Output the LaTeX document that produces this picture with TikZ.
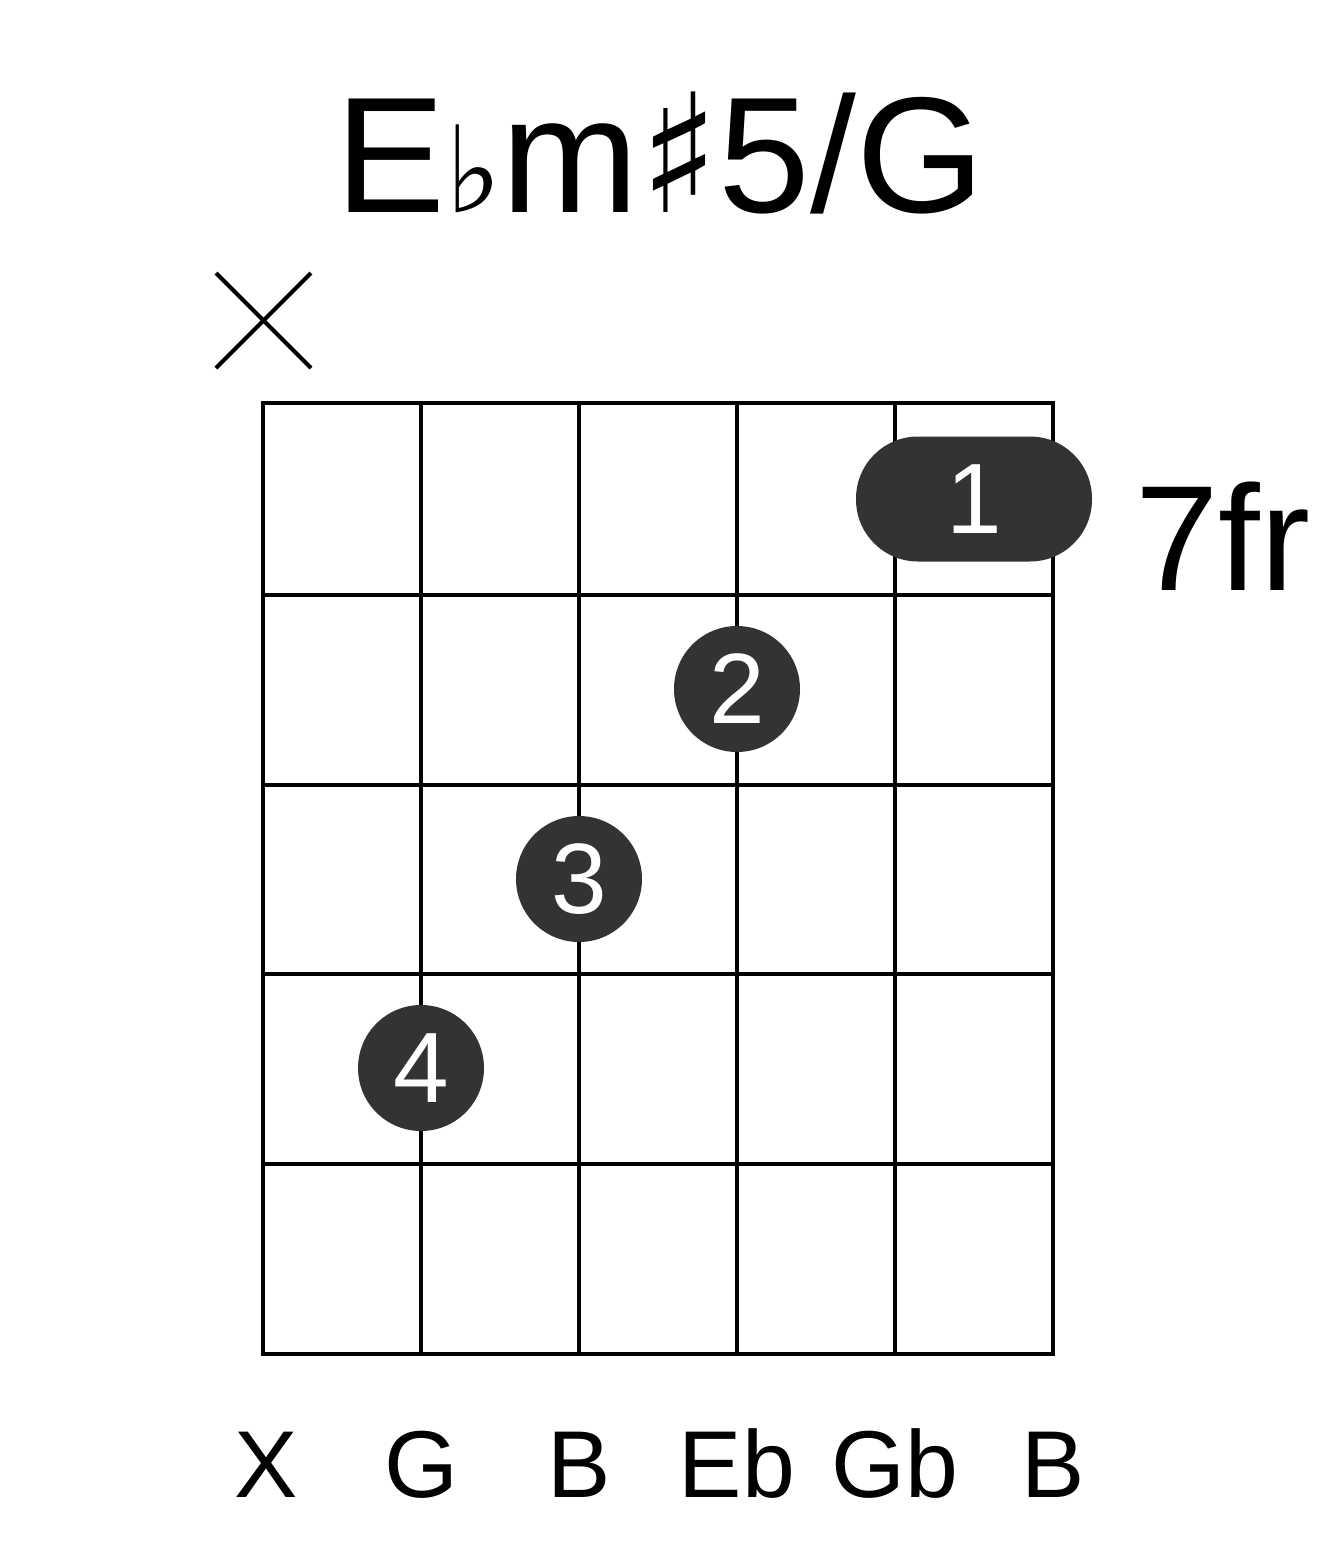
\documentclass[tikz,border=0pt]{standalone}
\usepackage{fontspec}
\setmainfont{Liberation Sans}
\newfontfamily\symf{DejaVu Sans}
\definecolor{dot}{HTML}{333333}
\begin{document}
\begin{tikzpicture}[x=1pt,y=-1pt,
  gridline/.style={line width=4pt},
  fing/.style={circle,fill=dot,minimum size=126pt,inner sep=0pt,text=white,font=\fontsize{100}{100}\selectfont},
  lab/.style={font=\fontsize{95}{95}\selectfont,anchor=base}]
\useasboundingbox (0,0) rectangle (1317,1551);
\foreach \x in {263,421,579,737,895,1053} \draw[gridline] (\x,403) -- (\x,1354);
\foreach \y in {403,595,785,974,1164,1354} \draw[gridline] (261,\y) -- (1055,\y);
\node[anchor=base,font=\fontsize{165}{165}\selectfont] (title) at (660,212) {E{\symf\fontsize{120}{120}\selectfont ♭}m{\symf ♯}5/G};
\draw[line width=4pt] (216,273) -- (311,368) (311,273) -- (216,368);
\node[fill=dot,rounded corners=62pt,minimum width=236pt,minimum height=125pt,inner sep=0pt,text=white,font=\fontsize{100}{100}\selectfont] (b1) at (974,499) {1};
\node[fing] (f2) at (737,689) {2};
\node[fing] (f3) at (579,879) {3};
\node[fing] (f4) at (421,1068) {4};
\node[anchor=base west,font=\fontsize{150}{150}\selectfont] (fr) at (1132,590) {7fr};
\node[lab] (s1) at (266,1497) {X};
\node[lab] (s2) at (421,1497) {G};
\node[lab] (s3) at (579,1497) {B};
\node[lab] (s4) at (737,1497) {Eb};
\node[lab] (s5) at (895,1497) {Gb};
\node[lab] (s6) at (1053,1497) {B};
\end{tikzpicture}
\end{document}
